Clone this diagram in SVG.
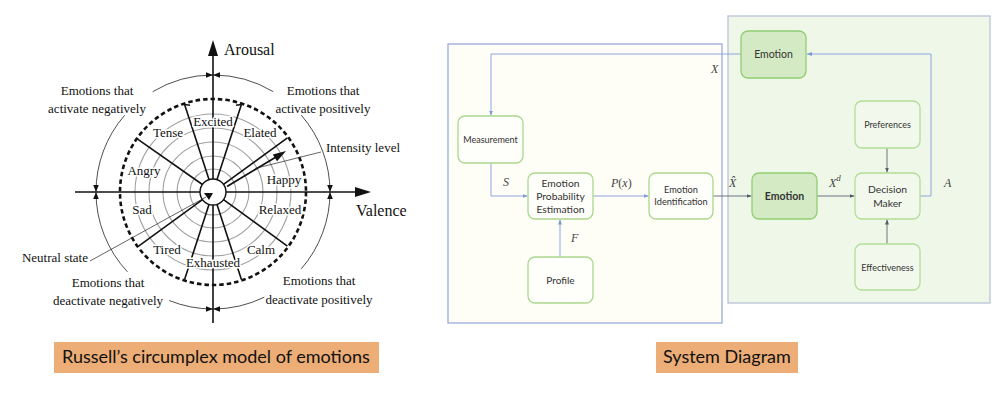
<svg xmlns="http://www.w3.org/2000/svg" width="997" height="404" viewBox="0 0 997 404">
<defs>
<style>
.serif{font-family:"Liberation Serif","Times New Roman",serif;fill:#111;}
.lbl{font-size:13px;}
.emo{font-size:13px;text-anchor:middle;paint-order:stroke;stroke:#fff;stroke-width:3px;stroke-linejoin:round;}
.ax{font-size:16px;}
.ring{fill:none;stroke:#a0a0a0;stroke-width:1.1;}
.spoke{stroke:#111;stroke-width:1.6;fill:none;}
.arc{fill:none;stroke:#222;stroke-width:0.8;marker-end:url(#sarr);}
.thin{stroke:#222;stroke-width:0.7;fill:none;}
.sans{font-family:Lato,"Open Sans","Liberation Sans",sans-serif;fill:#333;text-anchor:middle;}
.node{fill:#fefefa;stroke:#aad88d;stroke-width:1.3;}
.gnode{fill:#f2f9ec;stroke:#b3de98;stroke-width:1.3;}
.enode{fill:#d3eac4;stroke:#93cd73;stroke-width:1.3;}
.blue{fill:none;stroke:#8ea6dc;stroke-width:1;marker-end:url(#barr);}
.gray{fill:none;stroke:#6b7282;stroke-width:1;marker-end:url(#garr);}
.math{font-family:"Liberation Serif","Times New Roman",serif;font-style:italic;font-size:12px;fill:#444;}
.cap{fill:#ecad76;}
.captxt{font-family:Lato,"Open Sans","Liberation Sans",sans-serif;font-size:18px;fill:#111;}
</style>
<marker id="sarr" viewBox="0 0 10 8" refX="10" refY="4" markerWidth="7" markerHeight="5.6" markerUnits="userSpaceOnUse" orient="auto">
<path d="M0,0 L10,4 L0,8 Z" fill="#111"/>
</marker>
<marker id="barr" viewBox="0 0 10 8" refX="10" refY="4" markerWidth="5" markerHeight="4" markerUnits="userSpaceOnUse" orient="auto">
<path d="M0,0 L10,4 L0,8 Z" fill="#7f98d6"/>
</marker>
<marker id="garr" viewBox="0 0 10 8" refX="10" refY="4" markerWidth="5" markerHeight="4" markerUnits="userSpaceOnUse" orient="auto">
<path d="M0,0 L10,4 L0,8 Z" fill="#555c6c"/>
</marker>
</defs>
<rect width="997" height="404" fill="#ffffff"/>

<!-- ===== Russell's circumplex ===== -->
<g id="circumplex">
<g id="rings">
<circle class="ring" cx="213" cy="192" r="23"/>
<circle class="ring" cx="213" cy="192" r="36"/>
<circle class="ring" cx="213" cy="192" r="50"/>
<circle class="ring" cx="213" cy="192" r="64"/>
<circle class="ring" cx="213" cy="192" r="78"/>
</g>
<circle cx="213" cy="192" r="93" fill="none" stroke="#111" stroke-width="2.6" stroke-dasharray="4.5 3"/>
<g id="axes">
<line x1="213" y1="54" x2="213" y2="323" stroke="#111" stroke-width="1.6"/>
<path d="M213,40 L208,56 L218,56 Z" fill="#111"/>
<line x1="75" y1="192" x2="356" y2="192" stroke="#111" stroke-width="1.6"/>
<path d="M371,192 L355,187 L355,197 Z" fill="#111"/>
</g>
<g id="spokes">
<line class="spoke" x1="209" y1="179.6" x2="184.6" y2="104.5"/>
<line class="spoke" x1="217" y1="179.6" x2="241.4" y2="104.5"/>
<line class="spoke" x1="202.4" y1="184.5" x2="137.6" y2="139.2"/>
<line class="spoke" x1="223.5" y1="184.4" x2="287.4" y2="137.9"/>
<line class="spoke" x1="223.5" y1="199.6" x2="287.4" y2="246.1"/>
<line class="spoke" x1="217" y1="204.4" x2="241.4" y2="279.5"/>
<line class="spoke" x1="209" y1="204.4" x2="184.6" y2="279.5"/>
<line class="spoke" x1="202.5" y1="199.6" x2="138.6" y2="246.1"/>
<line class="spoke" x1="184.6" y1="104.5" x2="190" y2="105.2" stroke-width="1.2"/>
<line class="spoke" x1="241.4" y1="104.5" x2="236" y2="105.2" stroke-width="1.2"/>
</g>
<circle cx="213" cy="192" r="13" fill="#fff" stroke="#111" stroke-width="1.4"/>
<!-- intensity arrow -->
<line x1="227" y1="186.5" x2="276" y2="157" stroke="#111" stroke-width="1.8"/>
<path d="M286,151 L277,161.2 L272.8,154.4 Z" fill="#111"/>
<!-- pointer lines -->
<line class="thin" x1="321" y1="152" x2="255" y2="168.5"/>
<line class="thin" x1="90" y1="261" x2="206" y2="197"/>
<path d="M204,193 L213,193 L209,200 Z" fill="#111"/>
<!-- outer arcs -->
<g id="outer-arcs">
<path class="arc" d="M152.7,91.7 A117,117 0 0 1 213,75"/>
<path class="arc" d="M124.7,115.2 A117,117 0 0 0 96,192"/>
<path class="arc" d="M273.3,91.7 A117,117 0 0 0 213,75"/>
<path class="arc" d="M301.3,115.2 A117,117 0 0 1 330,192"/>
<path class="arc" d="M127.4,271.8 A117,117 0 0 1 96,192"/>
<path class="arc" d="M169.2,300.5 A117,117 0 0 0 213,309"/>
<path class="arc" d="M264.3,297.2 A117,117 0 0 1 213,309"/>
<path class="arc" d="M301.3,268.8 A117,117 0 0 0 330,192"/>
</g>
<!-- emotion labels -->
<text class="serif emo" x="213" y="126">Excited</text>
<text class="serif emo" x="168" y="137">Tense</text>
<text class="serif emo" x="260" y="137">Elated</text>
<text class="serif emo" x="144" y="175">Angry</text>
<text class="serif emo" x="284" y="184">Happy</text>
<text class="serif emo" x="142" y="214">Sad</text>
<text class="serif emo" x="280" y="214">Relaxed</text>
<text class="serif emo" x="167" y="254">Tired</text>
<text class="serif emo" x="261" y="254">Calm</text>
<text class="serif emo" x="213" y="267">Exhausted</text>
<!-- axis and outer labels -->
<text class="serif ax" x="224" y="55">Arousal</text>
<text class="serif ax" x="356" y="216">Valence</text>
<text class="serif lbl" x="97" y="95" text-anchor="middle">Emotions that</text>
<text class="serif lbl" x="97" y="113" text-anchor="middle">activate negatively</text>
<text class="serif lbl" x="323" y="95" text-anchor="middle">Emotions that</text>
<text class="serif lbl" x="323" y="113" text-anchor="middle">activate positively</text>
<text class="serif lbl" x="326" y="152">Intensity level</text>
<text class="serif lbl" x="88" y="262" text-anchor="end">Neutral state</text>
<text class="serif lbl" x="108" y="287" text-anchor="middle">Emotions that</text>
<text class="serif lbl" x="108" y="305" text-anchor="middle">deactivate negatively</text>
<text class="serif lbl" x="319" y="285" text-anchor="middle">Emotions that</text>
<text class="serif lbl" x="319" y="304" text-anchor="middle">deactivate positively</text>
</g>
<g id="caption-left">
<rect class="cap" x="54" y="342" width="325" height="31"/>
<text class="captxt" x="62" y="363">Russell’s circumplex model of emotions</text>
</g>

<!-- ===== System diagram ===== -->
<g id="panels">
<rect x="448" y="44" width="274" height="279" fill="#fefef7" stroke="#9aacd9" stroke-width="1.3"/>
<rect x="728" y="16" width="262" height="287" fill="#eff7e9" stroke="#b9c3d8" stroke-width="1.3"/>
</g>
<g id="connectors">
<path class="blue" d="M920,196 H931 V54 H807"/>
<path class="blue" d="M741,54 H491 V115.5"/>
<path class="blue" d="M491,163 V196 H527.5"/>
<path class="blue" d="M593,196 H648.5"/>
<path class="blue" d="M560,257 V219.5"/>
<path class="gray" d="M713,196 H751.5"/>
<path class="gray" d="M817,196 H854.5" stroke="#8a909b" stroke-width="1.5"/>
<path class="gray" d="M887,148 V172.5"/>
<path class="gray" d="M887,244 V219.5"/>
<text class="math" x="711" y="73">X</text>
<text class="math" x="503" y="186">S</text>
<text class="math" x="611" y="187">P<tspan font-style="normal">(</tspan>x<tspan font-style="normal">)</tspan></text>
<text class="math" x="571" y="242">F</text>
<text class="math" x="729" y="187">X̂</text>
<text class="math" x="829" y="187">X<tspan font-size="9" dy="-6">d</tspan></text>
<text class="math" x="944" y="187">A</text>
</g>
<g id="node-measurement">
<rect class="node" x="458" y="116" width="65" height="47" rx="7"/>
<text class="sans" x="490.5" y="143" font-size="9">Measurement</text>
</g>
<g id="node-epe">
<rect class="node" x="528" y="173" width="65" height="46" rx="7"/>
<text class="sans" x="560.5" y="187" font-size="10.3">Emotion</text>
<text class="sans" x="560.5" y="200" font-size="10.3">Probability</text>
<text class="sans" x="560.5" y="213" font-size="10.3">Estimation</text>
</g>
<g id="node-identification">
<rect class="node" x="649" y="173" width="64" height="46" rx="7"/>
<text class="sans" x="681" y="193" font-size="9.2">Emotion</text>
<text class="sans" x="681" y="205" font-size="9.2">Identification</text>
</g>
<g id="node-profile">
<rect class="node" x="528" y="257" width="65" height="46" rx="7"/>
<text class="sans" x="560.5" y="284" font-size="10">Profile</text>
</g>
<g id="node-emotion-top">
<rect class="enode" x="741" y="31" width="65" height="47" rx="7"/>
<text class="sans" x="773.5" y="58" font-size="10.5">Emotion</text>
</g>
<g id="node-preferences">
<rect class="gnode" x="855" y="101" width="65" height="47" rx="7"/>
<text class="sans" x="887.5" y="128" font-size="9">Preferences</text>
</g>
<g id="node-emotion-mid">
<rect class="enode" x="752" y="173" width="65" height="46" rx="7"/>
<text class="sans" x="784.5" y="200" font-size="10.5" font-weight="bold">Emotion</text>
</g>
<g id="node-decision">
<rect class="gnode" x="855" y="173" width="65" height="46" rx="7"/>
<text class="sans" x="887.5" y="193" font-size="10.3">Decision</text>
<text class="sans" x="887.5" y="207" font-size="10.3">Maker</text>
</g>
<g id="node-effectiveness">
<rect class="gnode" x="855" y="244" width="65" height="46" rx="7"/>
<text class="sans" x="887.5" y="271" font-size="9">Effectiveness</text>
</g>
<g id="caption-right">
<rect class="cap" x="656" y="342" width="142" height="31"/>
<text class="captxt" x="663" y="363">System Diagram</text>
</g>
</svg>
